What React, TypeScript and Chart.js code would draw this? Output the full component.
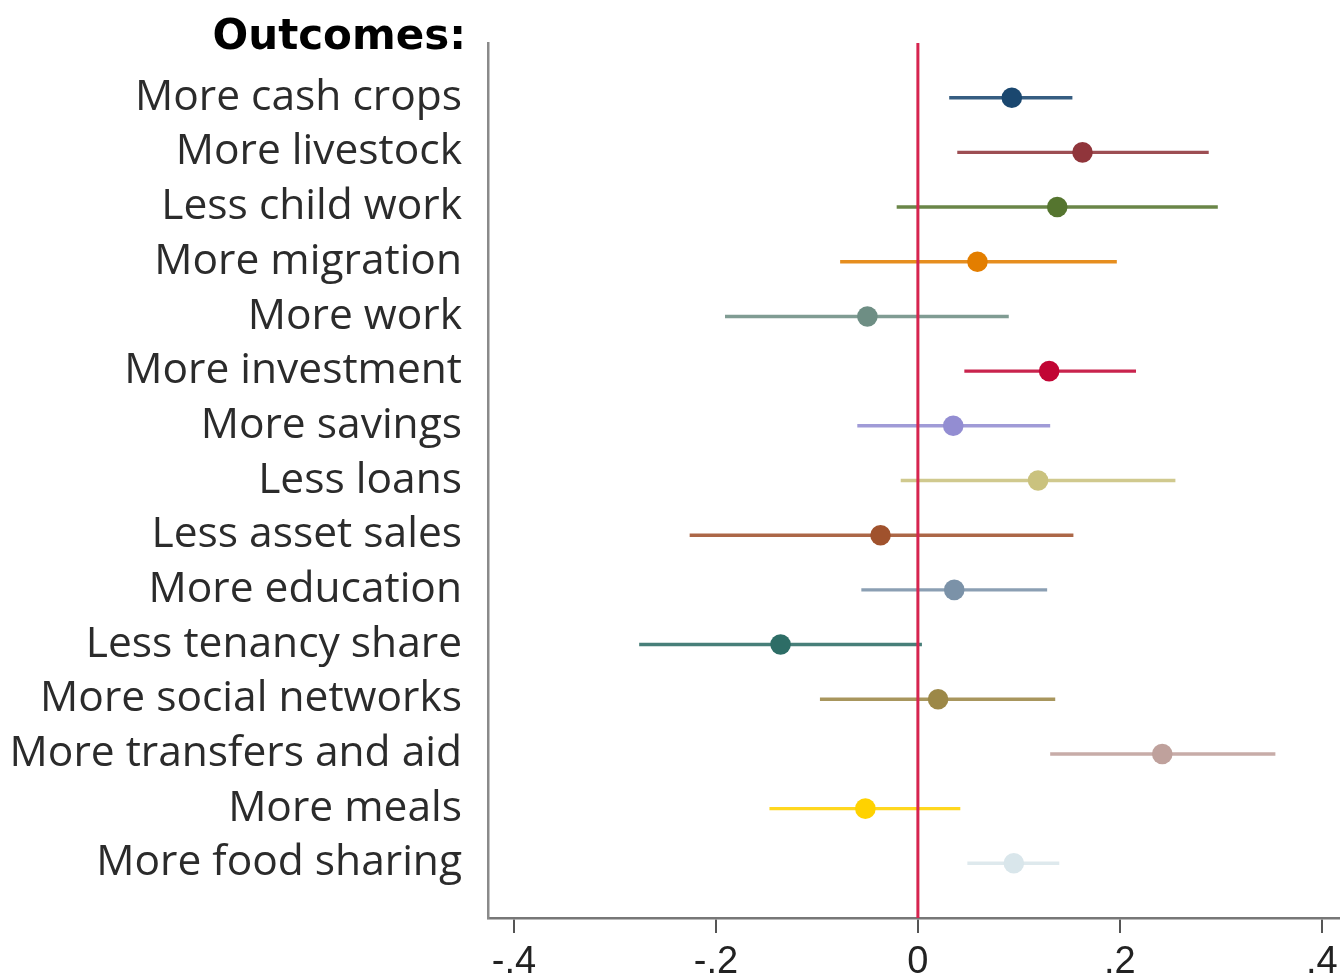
import React, { useEffect, useRef } from "react";
import { Chart, registerables } from "chart.js";

Chart.register(...registerables);

const outcomes = [
  "More cash crops",
  "More livestock",
  "Less child work",
  "More migration",
  "More work",
  "More investment",
  "More savings",
  "Less loans",
  "Less asset sales",
  "More education",
  "Less tenancy share",
  "More social networks",
  "More transfers and aid",
  "More meals",
  "More food sharing",
];

const estimates = [0.093, 0.163, 0.138, 0.059, -0.05, 0.13, 0.035, 0.119, -0.037, 0.036, -0.136, 0.02, 0.242, -0.052, 0.095];
const lowerCI = [0.031, 0.039, -0.021, -0.077, -0.191, 0.046, -0.06, -0.017, -0.226, -0.056, -0.276, -0.097, 0.131, -0.147, 0.049];
const upperCI = [0.153, 0.288, 0.297, 0.197, 0.09, 0.216, 0.131, 0.255, 0.154, 0.128, 0.004, 0.136, 0.354, 0.042, 0.14];

const colors = [
  "#1a476f", "#90353b", "#55752f", "#e37e00", "#6e8e84", "#c10534", "#938dd2", "#cac27e",
  "#a0522d", "#7b92a8", "#2d6d66", "#9c8847", "#bfa19c", "#ffd200", "#d9e6eb",
];

const xTicks = [-0.4, -0.2, 0, 0.2, 0.4];
const xTickLabels = ["-.4", "-.2", "0", ".2", ".4"];
const titleText = "Outcomes:";

const W = 1340;
const H = 974;

const withAlpha = (hex: string, a: number) => {
  const r = parseInt(hex.slice(1, 3), 16);
  const g = parseInt(hex.slice(3, 5), 16);
  const b = parseInt(hex.slice(5, 7), 16);
  return `rgba(${r},${g},${b},${a})`;
};

const titlePlugin = {
  id: "outcomesTitle",
  afterDraw(chart: any) {
    const { ctx, chartArea } = chart;
    ctx.save();
    ctx.font = 'bold 42px "DejaVu Sans"';
    ctx.fillStyle = "#000000";
    ctx.textAlign = "right";
    ctx.textBaseline = "alphabetic";
    ctx.fillText(titleText, chartArea.left - 22, chartArea.top + 6);
    ctx.restore();
  },
};

const zeroPad = (scale: any) => {
  scale.paddingTop = 0;
  scale.paddingBottom = 0;
  scale.paddingLeft = 0;
  scale.paddingRight = 0;
};

export default function App() {
  const canvasRef = useRef<HTMLCanvasElement | null>(null);

  useEffect(() => {
    if (!canvasRef.current) return;

    const ciDatasets = outcomes.map((name, i) => ({
      type: "scatter" as const,
      label: name + " CI",
      data: [
        { x: lowerCI[i], y: i + 1 },
        { x: upperCI[i], y: i + 1 },
      ],
      showLine: true,
      borderColor: withAlpha(colors[i], 0.88),
      borderWidth: 3.4,
      pointRadius: 0,
      pointHoverRadius: 0,
      order: 3,
    }));

    const zeroLine = {
      type: "scatter" as const,
      label: "zero",
      data: [
        { x: 0, y: 0 },
        { x: 0, y: outcomes.length + 1 },
      ],
      showLine: true,
      borderColor: "#d6244f",
      borderWidth: 3,
      pointRadius: 0,
      pointHoverRadius: 0,
      order: 2,
    };

    const points = {
      type: "scatter" as const,
      label: "Estimates",
      data: estimates.map((v, i) => ({ x: v, y: i + 1 })),
      pointRadius: 10.3,
      pointHoverRadius: 10.3,
      pointBackgroundColor: colors,
      pointBorderColor: colors,
      pointBorderWidth: 0,
      showLine: false,
      order: 1,
    };

    const chart = new Chart(canvasRef.current, {
      type: "scatter",
      data: { datasets: [...ciDatasets, zeroLine, points] as any },
      options: {
        animation: false,
        responsive: false,
        maintainAspectRatio: false,
        devicePixelRatio: 1,
        layout: { autoPadding: false, padding: { top: 43, left: 0, right: 0, bottom: 0 } },
        plugins: {
          legend: { display: false },
          tooltip: { enabled: false },
          title: { display: false },
        },
        scales: {
          x: {
            type: "linear",
            min: -0.4257,
            max: 0.418,
            afterBuildTicks: (scale: any) => {
              scale.ticks = xTicks.map((v) => ({ value: v }));
            },
            afterFit: (scale: any) => {
              scale.height = H - 918;
              zeroPad(scale);
            },
            ticks: {
              autoSkip: false,
              maxRotation: 0,
              color: "#222222",
              font: { family: '"Liberation Sans", Arial, sans-serif', size: 38 },
              padding: 7,
              callback: (v: any) => {
                const idx = xTicks.findIndex((t) => Math.abs(t - Number(v)) < 1e-9);
                return idx >= 0 ? xTickLabels[idx] : "";
              },
            },
            grid: {
              display: true,
              drawOnChartArea: false,
              drawTicks: true,
              tickLength: 15,
              color: "#555555",
              lineWidth: 2,
            },
            border: { display: true, color: "#777777", width: 2.5 },
          },
          y: {
            type: "linear",
            min: 0,
            max: outcomes.length + 1,
            reverse: true,
            afterBuildTicks: (scale: any) => {
              scale.ticks = outcomes.map((_, i) => ({ value: i + 1 }));
            },
            afterFit: (scale: any) => {
              scale.width = 488;
              zeroPad(scale);
            },
            ticks: {
              autoSkip: false,
              color: "#2b2b2b",
              font: { family: '"Open Sans", sans-serif', size: 42.5 },
              padding: 26,
              callback: (v: any) => outcomes[Math.round(Number(v)) - 1] ?? "",
            },
            grid: { display: false, drawTicks: false },
            border: { display: true, color: "#8a8a8a", width: 2.5 },
          },
        },
      },
      plugins: [titlePlugin],
    } as any);

    return () => chart.destroy();
  }, []);

  return (
    <div style={{ position: "fixed", left: 0, top: 0, width: W, height: H, background: "#ffffff" }}>
      <canvas ref={canvasRef} width={W} height={H} style={{ width: W, height: H, display: "block" }} />
    </div>
  );
}
